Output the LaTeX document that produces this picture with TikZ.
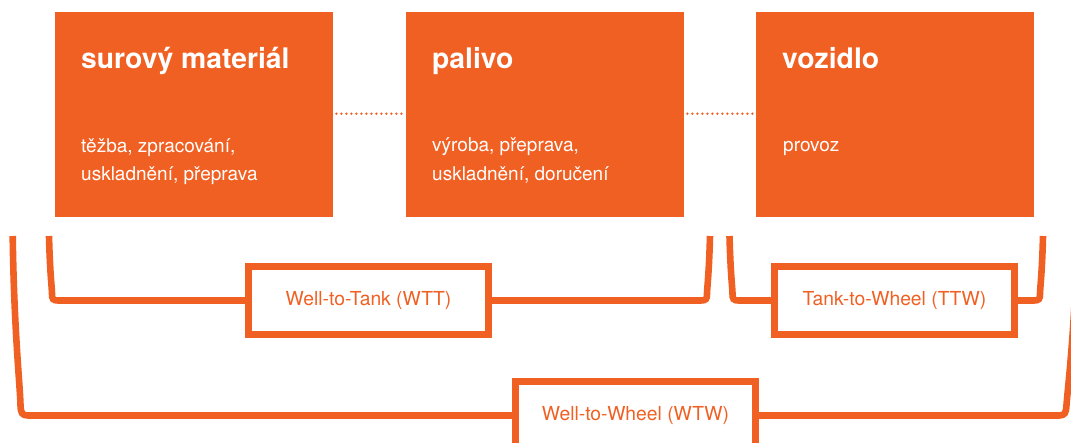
\documentclass[tikz,border=0pt]{standalone}
\usepackage{fontspec}
\setmainfont{TeX Gyre Heros}
\definecolor{vor}{RGB}{241,96,35}
\begin{document}
\begin{tikzpicture}[x=1pt,y=-1pt,
  stage/.style={fill=vor,draw=none,inner sep=0pt,minimum width=278pt,minimum height=205pt,anchor=north west},
  title/.style={anchor=base west,inner sep=0pt,text=white,font=\fontsize{28.3}{30}\selectfont\bfseries},
  desc/.style={anchor=base west,inner sep=0pt,text=white,font=\fontsize{19}{22}\selectfont},
  dotline/.style={draw=vor,line width=2.6pt,line cap=round,dash pattern=on 0pt off 5pt},
  brk/.style={draw=vor,line width=6.6pt},
  label/.style={draw=vor,line width=6.6pt,fill=white,minimum width=240pt,minimum height=68pt,inner sep=0pt,text=vor,font=\fontsize{19.3}{22}\selectfont}]
\useasboundingbox (0,0) rectangle (1071,442);
% stages
\node[stage] (raw) at (55,12) {};
\node[stage] (fuel) at (406,12) {};
\node[stage] (car) at (756,12) {};
\node[title] (t1) at (81,68) {surový materiál};
\node[title] (t2) at (432,68) {palivo};
\node[title] (t3) at (782,68) {vozidlo};
\node[desc] (d1a) at (81,152) {těžba, zpracování,};
\node[desc] (d1b) at (81,180) {uskladnění, přeprava};
\node[desc] (d2a) at (432,151) {výroba, přeprava,};
\node[desc] (d2b) at (432,180) {uskladnění, doručení};
\node[desc] (d3) at (783,151) {provoz};
% dotted links
\draw[dotline] ([xshift=3pt,yshift=1pt]raw.east) -- ([xshift=-3pt,yshift=1pt]fuel.west);
\draw[dotline] ([xshift=3pt,yshift=1pt]fuel.east) -- ([xshift=-3pt,yshift=1pt]car.west);
% bracket top ends
\coordinate (wttL) at (49,236);
\coordinate (wttR) at (710,236);
\coordinate (ttwL) at (729.5,236);
\coordinate (ttwR) at (1043,236);
\coordinate (wtwL) at (12.7,236);
\coordinate (wtwR) at (1077,236);
% label boxes
\node[label] (wtt) at (368.5,300.5) {Well-to-Tank (WTT)};
\node[label] (ttw) at (894.5,300.5) {Tank-to-Wheel (TTW)};
\node[label] (wtw) at (635.5,415.5) {Well-to-Wheel (WTW)};
% brackets
\draw[brk] (wttL) .. controls (50,275) and (52,288) .. (52,294) .. controls (52,299) and (53,300.5) .. (58,300.5) -- (wtt.west);
\draw[brk] (wtt.east) -- (701,300.5) .. controls (706,300.5) and (707,299) .. (707,294) .. controls (707,288) and (709,275) .. (wttR);
\draw[brk] (ttwL) .. controls (730.5,275) and (732.5,288) .. (732.5,294) .. controls (732.5,299) and (733.5,300.5) .. (738.5,300.5) -- (ttw.west);
\draw[brk] (ttw.east) -- (1034,300.5) .. controls (1039,300.5) and (1040,299) .. (1040,294) .. controls (1040,288) and (1042,275) .. (ttwR);
\draw[brk] (wtwL) .. controls (14,330) and (20,385) .. (20.5,405) .. controls (20.7,413) and (22,415.5) .. (28,415.5) -- (wtw.west);
\draw[brk] (wtw.east) -- (1059,415.5) .. controls (1065,415.5) and (1066,413) .. (1066.5,405) .. controls (1068,385) and (1075,330) .. (wtwR);
\end{tikzpicture}
\end{document}
